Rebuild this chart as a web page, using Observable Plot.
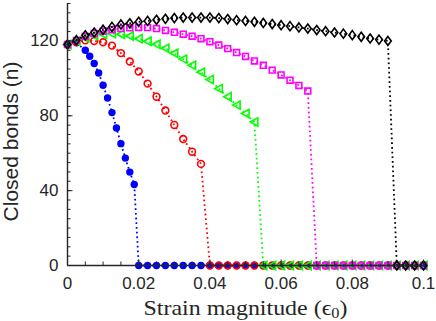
<!DOCTYPE html>
<html><head><meta charset="utf-8">
<script src="https://cdn.jsdelivr.net/npm/d3@7"></script>
<script src="https://cdn.jsdelivr.net/npm/@observablehq/plot@0.6"></script>
<style>body{margin:0;background:#fff}svg{display:block}</style>
</head><body><div id="chart"></div>
<script>
// strain grid (shared by red, green, magenta, black)
const strain = [0,0.0025,0.005,0.0075,0.01,0.0125,0.015,0.0175,0.02,0.0225,0.025,0.0275,0.03,0.0325,0.035,0.0375,0.04,0.0425,0.045,0.0475,0.05,0.0525,0.055,0.0575,0.06,0.0625,0.065,0.0675,0.07,0.0725,0.075,0.0775,0.08,0.0825,0.085,0.0875,0.09,0.0925,0.095,0.0975,0.1];
// blue series uses finer steps before failure
const strainBlue = [0,0.0025,0.005,0.00625,0.0075,0.00875,0.01,0.01125,0.0125,0.01375,0.015,0.01625,0.0175,0.01875,0.02,0.0225,0.025,0.0275,0.03,0.0325,0.035,0.0375,0.04,0.0425,0.045,0.0475,0.05,0.0525,0.055,0.0575,0.06,0.0625,0.065,0.0675,0.07,0.0725,0.075,0.0775,0.08,0.0825,0.085,0.0875,0.09,0.0925,0.095,0.0975,0.1];
const nBlue = [118.1,119,115,111.8,107.9,102.9,96.3,89.5,81.7,73.5,65.1,57.4,49.9,43.3,0,0,0,0,0,0,0,0,0,0,0,0,0,0,0,0,0,0,0,0,0,0,0,0,0,0,0,0,0,0,0,0,0];
const nRed = [118.1,119.5,120.3,120,119.3,117.5,113.5,109,103.7,97.2,90.2,82.8,75.1,67.6,60.8,54.3,0,0,0,0,0,0,0,0,0,0,0,0,0,0,0,0,0,0,0,0,0,0,0,0,0];
const nGreen = [118.1,120,121.7,122.9,123.6,123.9,123.6,122.6,121.2,119.8,118.2,116.1,113.4,110.3,107,103.3,99.4,94.5,90.2,85.7,81.2,76.7,0,0,0,0,0,0,0,0,0,0,0,0,0,0,0,0,0,0,0];
const nMagenta = [118.1,120.3,122.4,124,125.2,126,126.6,127,127.2,127.1,126.6,125.6,124.6,123.6,122.5,121.2,119.6,117.8,115.9,113.8,111.7,109.3,107,104.4,101.8,99,96.2,93.2,0,0,0,0,0,0,0,0,0,0,0,0,0];
const nBlack = [118.1,120.4,123,124.5,126,127.5,128.8,129.4,130.2,130.7,131.3,131.8,132.2,132.5,132.5,132.5,132.5,132.2,131.7,131.1,130.7,130.2,129.6,129,128.4,127.9,127.2,126.6,125.8,125.2,124.5,123.9,123.1,122.2,121.3,120.7,120,0,0,0,0];

const xTicks = [0,0.02,0.04,0.06,0.08,0.1];
const xMinor = [0,0.005,0.01,0.015,0.02,0.025,0.03,0.035,0.04,0.045,0.05,0.055,0.06,0.065,0.07,0.075,0.08,0.085,0.09,0.095,0.1];
const yTicks = [0,40,80,120];
const yMinor = [0,5,10,15,20,25,30,35,40,45,50,55,60,65,70,75,80,85,90,95,100,105,110,115,120,125,130,135,140];
const xLabel = "Strain magnitude (ϵ0)";
const yLabel = "Closed bonds (n)";

const rows = (xs, ys) => xs.map((x, i) => ({x, y: ys[i]}));

const triLeft = {draw(ctx, size) {const r = Math.sqrt(size / Math.PI); ctx.moveTo(-r, 0); ctx.lineTo(r * 0.85, -r); ctx.lineTo(r * 0.85, r); ctx.closePath();}};
const diamond = {draw(ctx, size) {const r = Math.sqrt(size / Math.PI); ctx.moveTo(0, -r * 1.1); ctx.lineTo(r * 0.82, 0); ctx.lineTo(0, r * 1.1); ctx.lineTo(-r * 0.82, 0); ctx.closePath();}};

const axisColor = "#262626";
const series = [
  {data: rows(strainBlue, nBlue), color: "#0000ff", symbol: "circle", r: 3.7, filled: true},
  {data: rows(strain, nRed), color: "#ff0000", symbol: "circle", r: 3.4},
  {data: rows(strain, nGreen), color: "#00ff00", symbol: triLeft, r: 4.1},
  {data: rows(strain, nMagenta), color: "#ff00ff", symbol: "square", r: 3.3},
  {data: rows(strain, nBlack), color: "#000000", symbol: diamond, r: 4.1}
];

const marks = [];
for (const s of series) {
  marks.push(Plot.line(s.data, {x: "x", y: "y", stroke: s.color, strokeWidth: 1.8, strokeDasharray: "1.7,3", strokeLinecap: "butt"}));
  marks.push(Plot.dot(s.data, {x: "x", y: "y", symbol: s.symbol, r: s.r,
    fill: s.filled ? s.color : "none", stroke: s.filled ? "none" : s.color, strokeWidth: 1.6}));
}

const chart = Plot.plot({
  width: 436, height: 321,
  marginLeft: 67, marginRight: 13, marginTop: 3, marginBottom: 56,
  style: {fontFamily: "Liberation Sans, Arial, sans-serif", fontSize: "17px", color: axisColor, background: "#fff"},
  x: {domain: [0, 0.1], label: null},
  y: {domain: [0, 140], label: null},
  marks: [
    ...marks,
    Plot.ruleX([0], {stroke: axisColor, strokeWidth: 1.4}),
    Plot.ruleY([0], {stroke: axisColor, strokeWidth: 1.4}),
    Plot.axisY({ticks: yMinor, tickSize: 3.5, dx: 3.5, text: null, label: null, stroke: axisColor}),
    Plot.axisY({ticks: yTicks, tickSize: 5.5, dx: 5.5, text: null, label: null, stroke: axisColor}),
    Plot.axisY({ticks: yTicks, tickSize: 0, tickPadding: 9, label: null, fontSize: 17}),
    Plot.axisX({ticks: xMinor, tickSize: 3.5, dy: -3.5, text: null, label: null, stroke: axisColor}),
    Plot.axisX({ticks: xTicks, tickSize: 5.5, dy: -5.5, text: null, label: null, stroke: axisColor}),
    Plot.axisX({ticks: xTicks, tickSize: 0, tickPadding: 11, label: null, fontSize: 17, tickFormat: d3.format("~g")}),
    Plot.text([yLabel], {text: d => d, frameAnchor: "left", rotate: -90, dx: -56.5, dy: 7, fontSize: 21, fill: axisColor, textAnchor: "middle"}),
    Plot.text([xLabel], {text: d => d, frameAnchor: "bottom", lineAnchor: "bottom", dy: 49.5, fontSize: 22, fontFamily: "Liberation Serif, DejaVu Serif, serif", fill: axisColor, textAnchor: "middle"})
  ]
});
document.getElementById("chart").appendChild(chart);
// subscript 0 in epsilon label, stretched to the reference's width
chart.querySelectorAll("text").forEach(t => {
  if (t.textContent === xLabel) {
    t.innerHTML = 'Strain magnitude (ϵ<tspan dy="3" font-size="15">0</tspan><tspan dy="-3">)</tspan>';
    t.setAttribute("textLength", "204");
    t.setAttribute("lengthAdjust", "spacingAndGlyphs");
  }
});
</script>
</body></html>
